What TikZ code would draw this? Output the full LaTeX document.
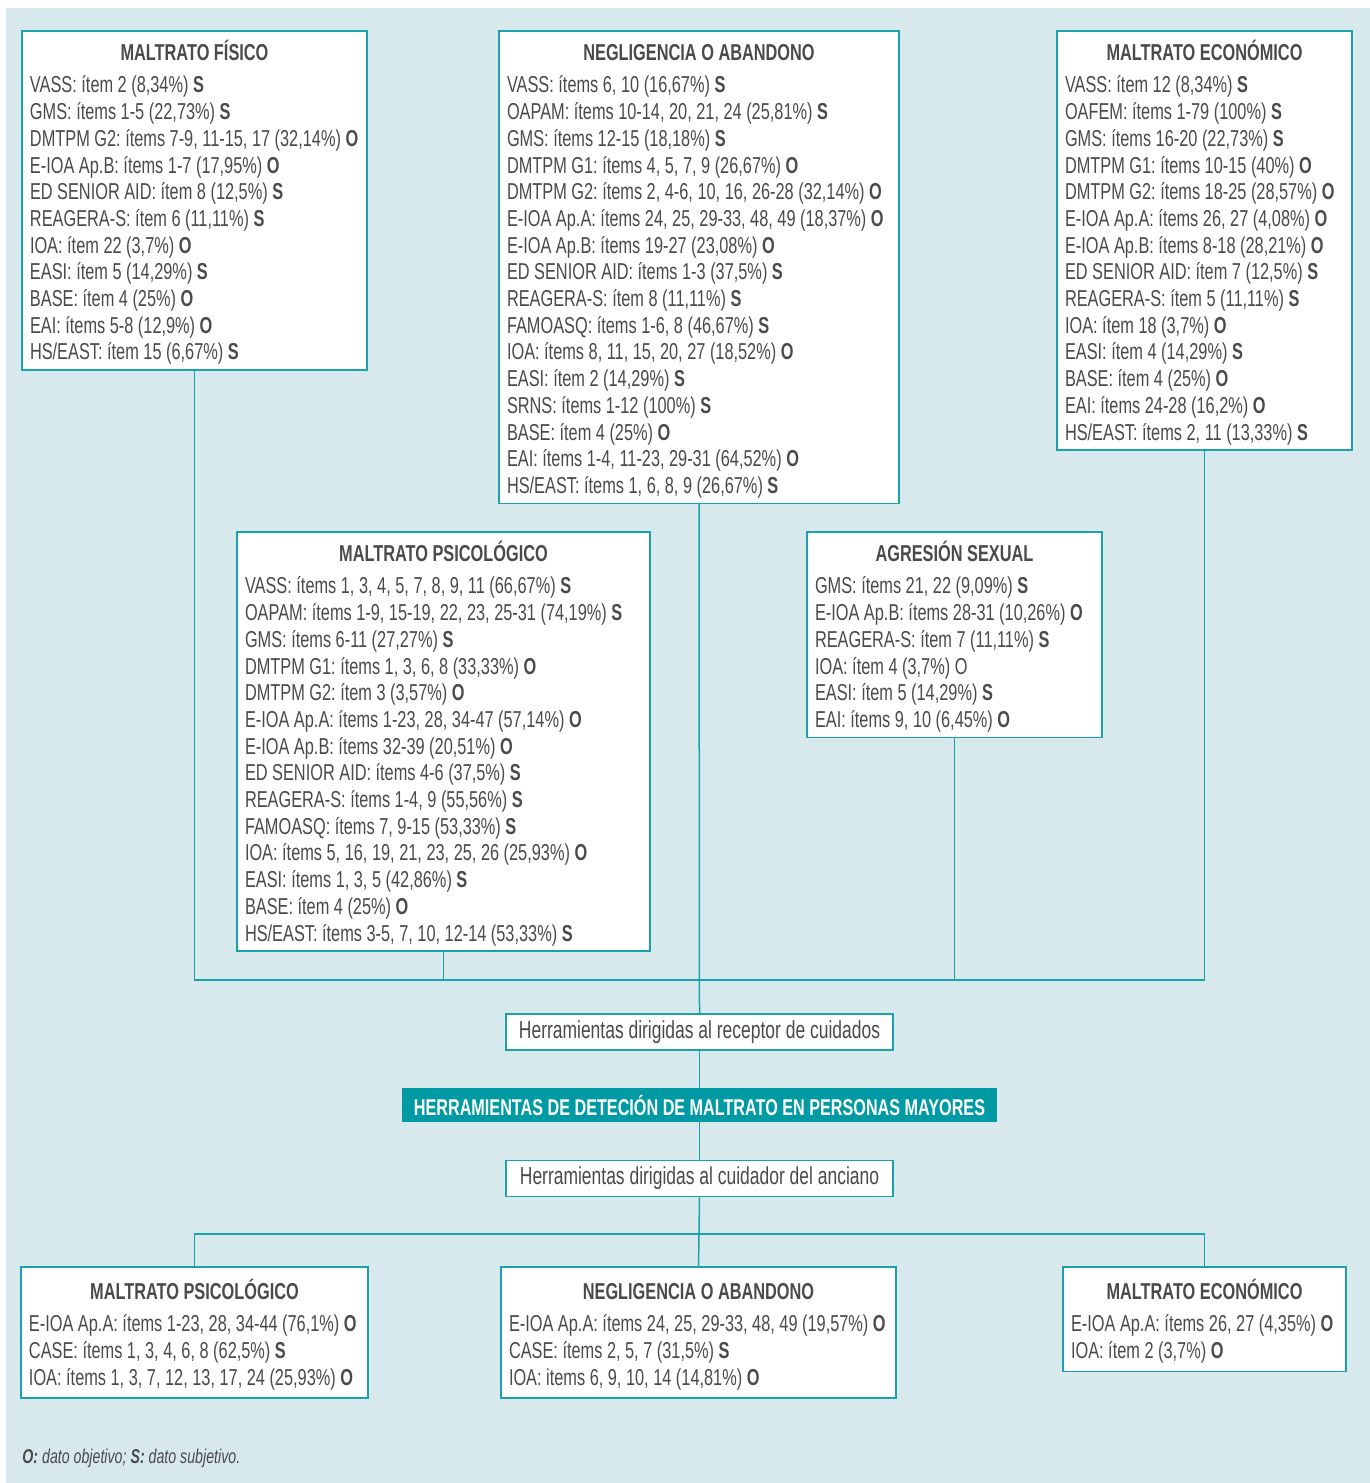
\documentclass[tikz,border=0pt]{standalone}
\usepackage{fontspec}
\setmainfont{Liberation Sans}[FakeStretch=0.71]
\usetikzlibrary{positioning}
\frenchspacing

\definecolor{fondo}{HTML}{D8E9EE}
\definecolor{turquesa}{HTML}{1AA2AB}
\definecolor{barra}{HTML}{009AA4}
\definecolor{texto}{HTML}{4A4A4A}

% primera linea de cada caja: fija su ancho y centra el titulo
\newcommand{\cajatitulo}[2]{\makebox[#1]{\rule{0pt}{14.2pt}\bfseries #2}\\[2.65pt]}
\newcommand{\Ob}{\textbf{O}}
\newcommand{\Sb}{\textbf{S}}

\begin{document}
\begin{tikzpicture}[x=0.5pt, y=-0.5pt,
    caja/.style={draw=turquesa, line width=0.75pt, fill=white, anchor=north, align=left,
      inner xsep=4pt, inner ysep=0.9pt, text=texto, font=\fontsize{11.5}{13.35}\selectfont},
    cajab/.style={caja, inner ysep=2.4pt},
    rotulo/.style={draw=turquesa, line width=0.75pt, fill=white, minimum width=193.5pt,
      minimum height=18pt, inner sep=0pt, text=texto, font=\fontsize{12.3}{14}\selectfont},
    link/.style={draw=turquesa, line width=0.75pt}]

  \useasboundingbox (0,0) rectangle (1370,1483);
  \fill[fondo] (6,8) rectangle (1370,1483);

  % herramientas dirigidas al receptor
  \node[caja] (fisico) at (194.5,30) {\cajatitulo{164.5pt}{MALTRATO FÍSICO}
    VASS: ítem 2 (8,34\%) \Sb\\
    GMS: ítems 1-5 (22,73\%) \Sb\\
    DMTPM G2: ítems 7-9, 11-15, 17 (32,14\%) \Ob\\
    E-IOA Ap.B: ítems 1-7 (17,95\%) \Ob\\
    ED SENIOR AID: ítem 8 (12,5\%) \Sb\\
    REAGERA-S: ítem 6 (11,11\%) \Sb\\
    IOA: ítem 22 (3,7\%) \Ob\\
    EASI: ítem 5 (14,29\%) \Sb\\
    BASE: ítem 4 (25\%) \Ob\\
    EAI: ítems 5-8 (12,9\%) \Ob\\
    HS/EAST: ítem 15 (6,67\%) \Sb\strut};

  \node[caja] (negligencia) at (699,30) {\cajatitulo{192pt}{NEGLIGENCIA O ABANDONO}
    VASS: ítems 6, 10 (16,67\%) \Sb\\
    OAPAM: ítems 10-14, 20, 21, 24 (25,81\%) \Sb\\
    GMS: ítems 12-15 (18,18\%) \Sb\\
    DMTPM G1: ítems 4, 5, 7, 9 (26,67\%) \Ob\\
    DMTPM G2: ítems 2, 4-6, 10, 16, 26-28 (32,14\%) \Ob\\
    E-IOA Ap.A: ítems 24, 25, 29-33, 48, 49 (18,37\%) \Ob\\
    E-IOA Ap.B: ítems 19-27 (23,08\%) \Ob\\
    ED SENIOR AID: ítems 1-3 (37,5\%) \Sb\\
    REAGERA-S: ítem 8 (11,11\%) \Sb\\
    FAMOASQ: ítems 1-6, 8 (46,67\%) \Sb\\
    IOA: ítems 8, 11, 15, 20, 27 (18,52\%) \Ob\\
    EASI: ítem 2 (14,29\%) \Sb\\
    SRNS: ítems 1-12 (100\%) \Sb\\
    BASE: ítem 4 (25\%) \Ob\\
    EAI: ítems 1-4, 11-23, 29-31 (64,52\%) \Ob\\
    HS/EAST: ítems 1, 6, 8, 9 (26,67\%) \Sb\strut};

  \node[caja] (economico) at (1204.5,30) {\cajatitulo{139.5pt}{MALTRATO ECONÓMICO}
    VASS: ítem 12 (8,34\%) \Sb\\
    OAFEM: ítems 1-79 (100\%) \Sb\\
    GMS: ítems 16-20 (22,73\%) \Sb\\
    DMTPM G1: ítems 10-15 (40\%) \Ob\\
    DMTPM G2: ítems 18-25 (28,57\%) \Ob\\
    E-IOA Ap.A: ítems 26, 27 (4,08\%) \Ob\\
    E-IOA Ap.B: ítems 8-18 (28,21\%) \Ob\\
    ED SENIOR AID: ítem 7 (12,5\%) \Sb\\
    REAGERA-S: ítem 5 (11,11\%) \Sb\\
    IOA: ítem 18 (3,7\%) \Ob\\
    EASI: ítem 4 (14,29\%) \Sb\\
    BASE: ítem 4 (25\%) \Ob\\
    EAI: ítems 24-28 (16,2\%) \Ob\\
    HS/EAST: ítems 2, 11 (13,33\%) \Sb\strut};

  \node[caja] (psicologico) at (443.5,531) {\cajatitulo{198.5pt}{MALTRATO PSICOLÓGICO}
    VASS: ítems 1, 3, 4, 5, 7, 8, 9, 11 (66,67\%) \Sb\\
    OAPAM: ítems 1-9, 15-19, 22, 23, 25-31 (74,19\%) \Sb\\
    GMS: ítems 6-11 (27,27\%) \Sb\\
    DMTPM G1: ítems 1, 3, 6, 8 (33,33\%) \Ob\\
    DMTPM G2: ítem 3 (3,57\%) \Ob\\
    E-IOA Ap.A: ítems 1-23, 28, 34-47 (57,14\%) \Ob\\
    E-IOA Ap.B: ítems 32-39 (20,51\%) \Ob\\
    ED SENIOR AID: ítems 4-6 (37,5\%) \Sb\\
    REAGERA-S: ítems 1-4, 9 (55,56\%) \Sb\\
    FAMOASQ: ítems 7, 9-15 (53,33\%) \Sb\\
    IOA: ítems 5, 16, 19, 21, 23, 25, 26 (25,93\%) \Ob\\
    EASI: ítems 1, 3, 5 (42,86\%) \Sb\\
    BASE: ítem 4 (25\%) \Ob\\
    HS/EAST: ítems 3-5, 7, 10, 12-14 (53,33\%) \Sb\strut};

  \node[caja] (sexual) at (954.5,531) {\cajatitulo{139.5pt}{AGRESIÓN SEXUAL}
    GMS: ítems 21, 22 (9,09\%) \Sb\\
    E-IOA Ap.B: ítems 28-31 (10,26\%) \Ob\\
    REAGERA-S: ítem 7 (11,11\%) \Sb\\
    IOA: ítem 4 (3,7\%) O\\
    EASI: ítem 5 (14,29\%) \Sb\\
    EAI: ítems 9, 10 (6,45\%) \Ob\strut};

  % eje central
  \node[rotulo] (receptor) at (699.5,1032) {Herramientas dirigidas al receptor de cuidados};
  \node[fill=barra, minimum width=297.5pt, minimum height=17pt, inner sep=0pt, text=white,
    font=\bfseries\fontsize{11.4}{13}\selectfont] (titulo) at (699.5,1105)
    {HERRAMIENTAS DE DETECIÓN DE MALTRATO EN PERSONAS MAYORES};
  \node[rotulo] (cuidador) at (699.5,1178.5) {Herramientas dirigidas al cuidador del anciano};

  % herramientas dirigidas al cuidador
  \node[cajab] (psicB) at (194.5,1266) {\cajatitulo{165.5pt}{MALTRATO PSICOLÓGICO}
    E-IOA Ap.A: ítems 1-23, 28, 34-44 (76,1\%) \Ob\\
    CASE: ítems 1, 3, 4, 6, 8 (62,5\%) \Sb\\
    IOA: ítems 1, 3, 7, 12, 13, 17, 24 (25,93\%) \Ob\strut};

  \node[cajab] (neglB) at (698.5,1266) {\cajatitulo{189.5pt}{NEGLIGENCIA O ABANDONO}
    E-IOA Ap.A: ítems 24, 25, 29-33, 48, 49 (19,57\%) \Ob\\
    CASE: ítems 2, 5, 7 (31,5\%) \Sb\\
    IOA: items 6, 9, 10, 14 (14,81\%) \Ob\strut};

  \node[cajab] (econB) at (1204.5,1266) {\cajatitulo{133.5pt}{MALTRATO ECONÓMICO}
    E-IOA Ap.A: ítems 26, 27 (4,35\%) \Ob\\
    IOA: ítem 2 (3,7\%) \Ob\strut};

  \node[anchor=west, inner sep=0pt, text=texto, font=\itshape\fontsize{10}{12}\selectfont]
    (nota) at (22,1458) {\textbf{O:} dato objetivo; \textbf{S:} dato subjetivo.};

  % conexiones
  \coordinate (busA) at (699,980);
  \coordinate (busB) at (699,1234);
  \draw[link] (fisico.south) |- (busA) -| (economico.south);
  \draw[link] (psicologico.south) -- (psicologico.south |- busA);
  \draw[link] (sexual.south) -- (sexual.south |- busA);
  \draw[link] (negligencia.south) -- (receptor.north);
  \draw[link] (receptor.south) -- (titulo.north);
  \draw[link] (titulo.south) -- (cuidador.north);
  \draw[link] (cuidador.south) -- (busB);
  \draw[link] (psicB.north) |- (busB) -| (econB.north);
  \draw[link] (busB) -- (neglB.north);
\end{tikzpicture}
\end{document}
